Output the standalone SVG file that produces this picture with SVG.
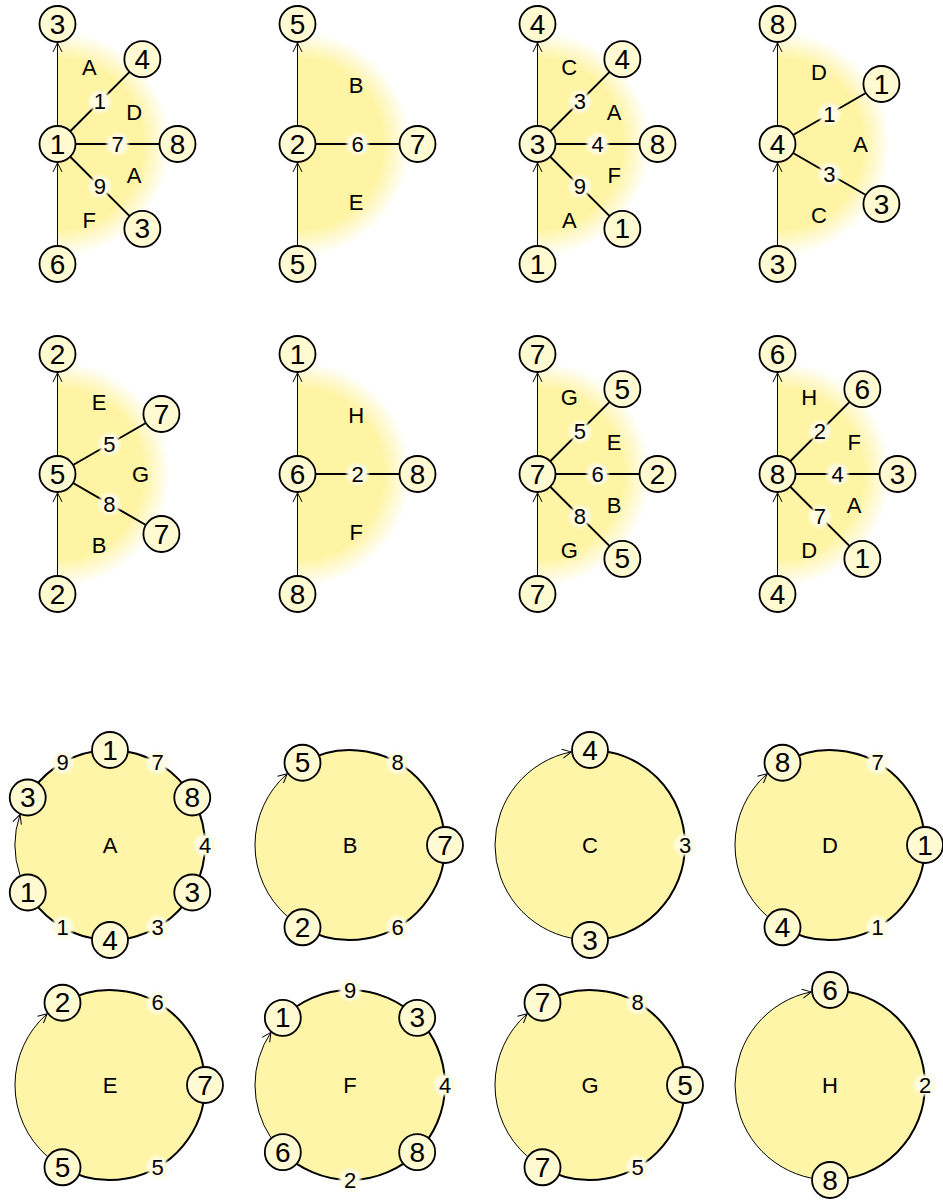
<svg xmlns="http://www.w3.org/2000/svg" width="943" height="1201" viewBox="0 0 943 1201">
<defs>
<style>
.halo{fill:url(#haloG)}
.disk{fill:#fff5a8}
.node circle{fill:#fffad2;stroke:#000;stroke-width:1.8}
text{font-family:"Liberation Sans",Arial,sans-serif;text-anchor:middle;dominant-baseline:central;fill:#000}
.nt{font-size:28px}
.lt{font-size:22px}
.spoke{stroke:#000;stroke-width:2;fill:none}
.rim{stroke:#000;stroke-width:2;fill:none}
.arr{stroke:#000;stroke-width:1;fill:none;marker-end:url(#ah)}
.lbg{fill:url(#lblG)}
</style>
<radialGradient id="haloG" cx="0.5" cy="0.5" r="0.5">
<stop offset="0" stop-color="#fff4a4"/>
<stop offset="0.76" stop-color="#fff4a4"/>
<stop offset="1" stop-color="#fff4a4" stop-opacity="0"/>
</radialGradient>
<radialGradient id="lblG" cx="0.5" cy="0.5" r="0.5">
<stop offset="0" stop-color="#fffce2"/>
<stop offset="0.65" stop-color="#fffce2"/>
<stop offset="1" stop-color="#fffce2" stop-opacity="0"/>
</radialGradient>
<clipPath id="rh" clipPathUnits="objectBoundingBox"><rect x="0.5" y="0" width="0.5" height="1"/></clipPath>
<marker id="ah" markerWidth="12" markerHeight="12" refX="0" refY="0" orient="auto" markerUnits="userSpaceOnUse" overflow="visible">
<path d="M -9 -4.5 L 0 0 L -9 4.5" fill="none" stroke="#000" stroke-width="1"/>
</marker>
</defs>
<rect width="943" height="1201" fill="#fff"/>

<!-- halos and disks -->
<g id="backgrounds">
<circle class="halo" cx="57.5" cy="144" r="113" clip-path="url(#rh)"/>
<circle class="halo" cx="297.5" cy="144" r="113" clip-path="url(#rh)"/>
<circle class="halo" cx="537.5" cy="144" r="113" clip-path="url(#rh)"/>
<circle class="halo" cx="777.5" cy="144" r="113" clip-path="url(#rh)"/>
<circle class="halo" cx="57.5" cy="474" r="113" clip-path="url(#rh)"/>
<circle class="halo" cx="297.5" cy="474" r="113" clip-path="url(#rh)"/>
<circle class="halo" cx="537.5" cy="474" r="113" clip-path="url(#rh)"/>
<circle class="halo" cx="777.5" cy="474" r="113" clip-path="url(#rh)"/>
<circle class="disk" cx="110" cy="845" r="95"/>
<circle class="disk" cx="350" cy="845" r="95"/>
<circle class="disk" cx="590" cy="845" r="95"/>
<circle class="disk" cx="830" cy="845" r="95"/>
<circle class="disk" cx="110" cy="1085" r="95"/>
<circle class="disk" cx="350" cy="1085" r="95"/>
<circle class="disk" cx="590" cy="1085" r="95"/>
<circle class="disk" cx="830" cy="1085" r="95"/>
</g>

<!-- face labels -->
<g id="faces">
<text class="lt" x="89.26" y="67.32">A</text>
<text class="lt" x="134.18" y="112.24">D</text>
<text class="lt" x="134.18" y="175.76">A</text>
<text class="lt" x="89.26" y="220.68">F</text>
<text class="lt" x="356.19" y="85.31">B</text>
<text class="lt" x="356.19" y="202.69">E</text>
<text class="lt" x="569.26" y="67.32">C</text>
<text class="lt" x="614.18" y="112.24">A</text>
<text class="lt" x="614.18" y="175.76">F</text>
<text class="lt" x="569.26" y="220.68">A</text>
<text class="lt" x="819" y="72.12">D</text>
<text class="lt" x="860.5" y="144">A</text>
<text class="lt" x="819" y="215.88">C</text>
<text class="lt" x="99" y="402.12">E</text>
<text class="lt" x="140.5" y="474">G</text>
<text class="lt" x="99" y="545.88">B</text>
<text class="lt" x="356.19" y="415.31">H</text>
<text class="lt" x="356.19" y="532.69">F</text>
<text class="lt" x="569.26" y="397.32">G</text>
<text class="lt" x="614.18" y="442.24">E</text>
<text class="lt" x="614.18" y="505.76">B</text>
<text class="lt" x="569.26" y="550.68">G</text>
<text class="lt" x="809.26" y="397.32">H</text>
<text class="lt" x="854.18" y="442.24">F</text>
<text class="lt" x="854.18" y="505.76">A</text>
<text class="lt" x="809.26" y="550.68">D</text>
<text class="lt" x="110" y="845">A</text>
<text class="lt" x="350" y="845">B</text>
<text class="lt" x="590" y="845">C</text>
<text class="lt" x="830" y="845">D</text>
<text class="lt" x="110" y="1085">E</text>
<text class="lt" x="350" y="1085">F</text>
<text class="lt" x="590" y="1085">G</text>
<text class="lt" x="830" y="1085">H</text>
</g>

<!-- connectors -->
<g id="connectors">
<path class="arr" d="M57.5 245.1 L57.5 162.9"/>
<path class="arr" d="M57.5 125.1 L57.5 42.9"/>
<path class="spoke" d="M57.5 144 L142.35 59.15 M57.5 144 L177.5 144 M57.5 144 L142.35 228.85"/>
<path class="arr" d="M297.5 245.1 L297.5 162.9"/>
<path class="arr" d="M297.5 125.1 L297.5 42.9"/>
<path class="spoke" d="M297.5 144 L417.5 144"/>
<path class="arr" d="M537.5 245.1 L537.5 162.9"/>
<path class="arr" d="M537.5 125.1 L537.5 42.9"/>
<path class="spoke" d="M537.5 144 L622.35 59.15 M537.5 144 L657.5 144 M537.5 144 L622.35 228.85"/>
<path class="arr" d="M777.5 245.1 L777.5 162.9"/>
<path class="arr" d="M777.5 125.1 L777.5 42.9"/>
<path class="spoke" d="M777.5 144 L881.42 84 M777.5 144 L881.42 204"/>
<path class="arr" d="M57.5 575.1 L57.5 492.9"/>
<path class="arr" d="M57.5 455.1 L57.5 372.9"/>
<path class="spoke" d="M57.5 474 L161.42 414 M57.5 474 L161.42 534"/>
<path class="arr" d="M297.5 575.1 L297.5 492.9"/>
<path class="arr" d="M297.5 455.1 L297.5 372.9"/>
<path class="spoke" d="M297.5 474 L417.5 474"/>
<path class="arr" d="M537.5 575.1 L537.5 492.9"/>
<path class="arr" d="M537.5 455.1 L537.5 372.9"/>
<path class="spoke" d="M537.5 474 L622.35 389.15 M537.5 474 L657.5 474 M537.5 474 L622.35 558.85"/>
<path class="arr" d="M777.5 575.1 L777.5 492.9"/>
<path class="arr" d="M777.5 455.1 L777.5 372.9"/>
<path class="spoke" d="M777.5 474 L862.35 389.15 M777.5 474 L897.5 474 M777.5 474 L862.35 558.85"/>

<path class="rim" d="M27.73 797.5 A95 95 0 1 1 27.73 892.5"/>
<path class="arr" d="M20 875.41 A95 95 0 0 1 20 814.59"/>
<path class="rim" d="M302.5 762.73 A95 95 0 1 1 302.5 927.27"/>
<path class="arr" d="M287.27 916.35 A95 95 0 0 1 287.27 773.65"/>
<path class="rim" d="M590 750 A95 95 0 0 1 590 940"/>
<path class="arr" d="M571.33 938.15 A95 95 0 0 1 571.33 751.85"/>
<path class="rim" d="M782.5 762.73 A95 95 0 1 1 782.5 927.27"/>
<path class="arr" d="M767.27 916.35 A95 95 0 0 1 767.27 773.65"/>
<path class="rim" d="M62.5 1002.73 A95 95 0 1 1 62.5 1167.27"/>
<path class="arr" d="M47.27 1156.35 A95 95 0 0 1 47.27 1013.65"/>
<path class="rim" d="M282.82 1017.82 A95 95 0 1 1 282.82 1152.18"/>
<path class="arr" d="M270.93 1137.67 A95 95 0 0 1 270.93 1032.33"/>
<path class="rim" d="M542.5 1002.73 A95 95 0 1 1 542.5 1167.27"/>
<path class="arr" d="M527.27 1156.35 A95 95 0 0 1 527.27 1013.65"/>
<path class="rim" d="M830 990 A95 95 0 0 1 830 1180"/>
<path class="arr" d="M811.33 1178.15 A95 95 0 0 1 811.33 991.85"/>

<!-- edge labels -->
<g class="elabels">
<circle class="lbg" cx="99.93" cy="101.57" r="13"/><text class="lt" x="99.93" y="101.57">1</text>
<circle class="lbg" cx="117.5" cy="144" r="13"/><text class="lt" x="117.5" y="144">7</text>
<circle class="lbg" cx="99.93" cy="186.43" r="13"/><text class="lt" x="99.93" y="186.43">9</text>
<circle class="lbg" cx="357.5" cy="144" r="13"/><text class="lt" x="357.5" y="144">6</text>
<circle class="lbg" cx="579.93" cy="101.57" r="13"/><text class="lt" x="579.93" y="101.57">3</text>
<circle class="lbg" cx="597.5" cy="144" r="13"/><text class="lt" x="597.5" y="144">4</text>
<circle class="lbg" cx="579.93" cy="186.43" r="13"/><text class="lt" x="579.93" y="186.43">9</text>
<circle class="lbg" cx="829.46" cy="114" r="13"/><text class="lt" x="829.46" y="114">1</text>
<circle class="lbg" cx="829.46" cy="174" r="13"/><text class="lt" x="829.46" y="174">3</text>
<circle class="lbg" cx="109.46" cy="444" r="13"/><text class="lt" x="109.46" y="444">5</text>
<circle class="lbg" cx="109.46" cy="504" r="13"/><text class="lt" x="109.46" y="504">8</text>
<circle class="lbg" cx="357.5" cy="474" r="13"/><text class="lt" x="357.5" y="474">2</text>
<circle class="lbg" cx="579.93" cy="431.57" r="13"/><text class="lt" x="579.93" y="431.57">5</text>
<circle class="lbg" cx="597.5" cy="474" r="13"/><text class="lt" x="597.5" y="474">6</text>
<circle class="lbg" cx="579.93" cy="516.43" r="13"/><text class="lt" x="579.93" y="516.43">8</text>
<circle class="lbg" cx="819.93" cy="431.57" r="13"/><text class="lt" x="819.93" y="431.57">2</text>
<circle class="lbg" cx="837.5" cy="474" r="13"/><text class="lt" x="837.5" y="474">4</text>
<circle class="lbg" cx="819.93" cy="516.43" r="13"/><text class="lt" x="819.93" y="516.43">7</text>

<circle class="lbg" cx="62.5" cy="762.73" r="13"/><text class="lt" x="62.5" y="762.73">9</text>
<circle class="lbg" cx="157.5" cy="762.73" r="13"/><text class="lt" x="157.5" y="762.73">7</text>
<circle class="lbg" cx="205" cy="845" r="13"/><text class="lt" x="205" y="845">4</text>
<circle class="lbg" cx="157.5" cy="927.27" r="13"/><text class="lt" x="157.5" y="927.27">3</text>
<circle class="lbg" cx="62.5" cy="927.27" r="13"/><text class="lt" x="62.5" y="927.27">1</text>
<circle class="lbg" cx="397.5" cy="762.73" r="13"/><text class="lt" x="397.5" y="762.73">8</text>
<circle class="lbg" cx="397.5" cy="927.27" r="13"/><text class="lt" x="397.5" y="927.27">6</text>
<circle class="lbg" cx="685" cy="845" r="13"/><text class="lt" x="685" y="845">3</text>
<circle class="lbg" cx="877.5" cy="762.73" r="13"/><text class="lt" x="877.5" y="762.73">7</text>
<circle class="lbg" cx="877.5" cy="927.27" r="13"/><text class="lt" x="877.5" y="927.27">1</text>
<circle class="lbg" cx="157.5" cy="1002.73" r="13"/><text class="lt" x="157.5" y="1002.73">6</text>
<circle class="lbg" cx="157.5" cy="1167.27" r="13"/><text class="lt" x="157.5" y="1167.27">5</text>
<circle class="lbg" cx="350" cy="990" r="13"/><text class="lt" x="350" y="990">9</text>
<circle class="lbg" cx="445" cy="1085" r="13"/><text class="lt" x="445" y="1085">4</text>
<circle class="lbg" cx="350" cy="1180" r="13"/><text class="lt" x="350" y="1180">2</text>
<circle class="lbg" cx="637.5" cy="1002.73" r="13"/><text class="lt" x="637.5" y="1002.73">8</text>
<circle class="lbg" cx="637.5" cy="1167.27" r="13"/><text class="lt" x="637.5" y="1167.27">5</text>
<circle class="lbg" cx="925" cy="1085" r="13"/><text class="lt" x="925" y="1085">2</text>
</g>
</g>

<!-- nodes: stars row 1 -->
<g id="s1-top" class="node"><circle cx="57.5" cy="24" r="18"/><text class="nt" x="57.5" y="24">3</text></g>
<g id="s1-center" class="node"><circle cx="57.5" cy="144" r="18"/><text class="nt" x="57.5" y="144">1</text></g>
<g id="s1-bottom" class="node"><circle cx="57.5" cy="264" r="18"/><text class="nt" x="57.5" y="264">6</text></g>
<g id="s1-n4" class="node"><circle cx="142.35" cy="59.15" r="18"/><text class="nt" x="142.35" y="59.15">4</text></g>
<g id="s1-n8" class="node"><circle cx="177.5" cy="144" r="18"/><text class="nt" x="177.5" y="144">8</text></g>
<g id="s1-n3" class="node"><circle cx="142.35" cy="228.85" r="18"/><text class="nt" x="142.35" y="228.85">3</text></g>

<g id="s2-top" class="node"><circle cx="297.5" cy="24" r="18"/><text class="nt" x="297.5" y="24">5</text></g>
<g id="s2-center" class="node"><circle cx="297.5" cy="144" r="18"/><text class="nt" x="297.5" y="144">2</text></g>
<g id="s2-bottom" class="node"><circle cx="297.5" cy="264" r="18"/><text class="nt" x="297.5" y="264">5</text></g>
<g id="s2-n7" class="node"><circle cx="417.5" cy="144" r="18"/><text class="nt" x="417.5" y="144">7</text></g>

<g id="s3-top" class="node"><circle cx="537.5" cy="24" r="18"/><text class="nt" x="537.5" y="24">4</text></g>
<g id="s3-center" class="node"><circle cx="537.5" cy="144" r="18"/><text class="nt" x="537.5" y="144">3</text></g>
<g id="s3-bottom" class="node"><circle cx="537.5" cy="264" r="18"/><text class="nt" x="537.5" y="264">1</text></g>
<g id="s3-n4" class="node"><circle cx="622.35" cy="59.15" r="18"/><text class="nt" x="622.35" y="59.15">4</text></g>
<g id="s3-n8" class="node"><circle cx="657.5" cy="144" r="18"/><text class="nt" x="657.5" y="144">8</text></g>
<g id="s3-n1" class="node"><circle cx="622.35" cy="228.85" r="18"/><text class="nt" x="622.35" y="228.85">1</text></g>

<g id="s4-top" class="node"><circle cx="777.5" cy="24" r="18"/><text class="nt" x="777.5" y="24">8</text></g>
<g id="s4-center" class="node"><circle cx="777.5" cy="144" r="18"/><text class="nt" x="777.5" y="144">4</text></g>
<g id="s4-bottom" class="node"><circle cx="777.5" cy="264" r="18"/><text class="nt" x="777.5" y="264">3</text></g>
<g id="s4-n1" class="node"><circle cx="881.42" cy="84" r="18"/><text class="nt" x="881.42" y="84">1</text></g>
<g id="s4-n3" class="node"><circle cx="881.42" cy="204" r="18"/><text class="nt" x="881.42" y="204">3</text></g>

<!-- stars row 2 -->
<g id="s5-top" class="node"><circle cx="57.5" cy="354" r="18"/><text class="nt" x="57.5" y="354">2</text></g>
<g id="s5-center" class="node"><circle cx="57.5" cy="474" r="18"/><text class="nt" x="57.5" y="474">5</text></g>
<g id="s5-bottom" class="node"><circle cx="57.5" cy="594" r="18"/><text class="nt" x="57.5" y="594">2</text></g>
<g id="s5-n7a" class="node"><circle cx="161.42" cy="414" r="18"/><text class="nt" x="161.42" y="414">7</text></g>
<g id="s5-n7b" class="node"><circle cx="161.42" cy="534" r="18"/><text class="nt" x="161.42" y="534">7</text></g>

<g id="s6-top" class="node"><circle cx="297.5" cy="354" r="18"/><text class="nt" x="297.5" y="354">1</text></g>
<g id="s6-center" class="node"><circle cx="297.5" cy="474" r="18"/><text class="nt" x="297.5" y="474">6</text></g>
<g id="s6-bottom" class="node"><circle cx="297.5" cy="594" r="18"/><text class="nt" x="297.5" y="594">8</text></g>
<g id="s6-n8" class="node"><circle cx="417.5" cy="474" r="18"/><text class="nt" x="417.5" y="474">8</text></g>

<g id="s7-top" class="node"><circle cx="537.5" cy="354" r="18"/><text class="nt" x="537.5" y="354">7</text></g>
<g id="s7-center" class="node"><circle cx="537.5" cy="474" r="18"/><text class="nt" x="537.5" y="474">7</text></g>
<g id="s7-bottom" class="node"><circle cx="537.5" cy="594" r="18"/><text class="nt" x="537.5" y="594">7</text></g>
<g id="s7-n5a" class="node"><circle cx="622.35" cy="389.15" r="18"/><text class="nt" x="622.35" y="389.15">5</text></g>
<g id="s7-n2" class="node"><circle cx="657.5" cy="474" r="18"/><text class="nt" x="657.5" y="474">2</text></g>
<g id="s7-n5b" class="node"><circle cx="622.35" cy="558.85" r="18"/><text class="nt" x="622.35" y="558.85">5</text></g>

<g id="s8-top" class="node"><circle cx="777.5" cy="354" r="18"/><text class="nt" x="777.5" y="354">6</text></g>
<g id="s8-center" class="node"><circle cx="777.5" cy="474" r="18"/><text class="nt" x="777.5" y="474">8</text></g>
<g id="s8-bottom" class="node"><circle cx="777.5" cy="594" r="18"/><text class="nt" x="777.5" y="594">4</text></g>
<g id="s8-n6" class="node"><circle cx="862.35" cy="389.15" r="18"/><text class="nt" x="862.35" y="389.15">6</text></g>
<g id="s8-n3" class="node"><circle cx="897.5" cy="474" r="18"/><text class="nt" x="897.5" y="474">3</text></g>
<g id="s8-n1" class="node"><circle cx="862.35" cy="558.85" r="18"/><text class="nt" x="862.35" y="558.85">1</text></g>

<!-- circle faces -->
<g id="cA-n3a" class="node"><circle cx="27.73" cy="797.5" r="18"/><text class="nt" x="27.73" y="797.5">3</text></g>
<g id="cA-n1a" class="node"><circle cx="110" cy="750" r="18"/><text class="nt" x="110" y="750">1</text></g>
<g id="cA-n8" class="node"><circle cx="192.27" cy="797.5" r="18"/><text class="nt" x="192.27" y="797.5">8</text></g>
<g id="cA-n3b" class="node"><circle cx="192.27" cy="892.5" r="18"/><text class="nt" x="192.27" y="892.5">3</text></g>
<g id="cA-n4" class="node"><circle cx="110" cy="940" r="18"/><text class="nt" x="110" y="940">4</text></g>
<g id="cA-n1b" class="node"><circle cx="27.73" cy="892.5" r="18"/><text class="nt" x="27.73" y="892.5">1</text></g>

<g id="cB-n5" class="node"><circle cx="302.5" cy="762.73" r="18"/><text class="nt" x="302.5" y="762.73">5</text></g>
<g id="cB-n7" class="node"><circle cx="445" cy="845" r="18"/><text class="nt" x="445" y="845">7</text></g>
<g id="cB-n2" class="node"><circle cx="302.5" cy="927.27" r="18"/><text class="nt" x="302.5" y="927.27">2</text></g>

<g id="cC-n4" class="node"><circle cx="590" cy="750" r="18"/><text class="nt" x="590" y="750">4</text></g>
<g id="cC-n3" class="node"><circle cx="590" cy="940" r="18"/><text class="nt" x="590" y="940">3</text></g>

<g id="cD-n8" class="node"><circle cx="782.5" cy="762.73" r="18"/><text class="nt" x="782.5" y="762.73">8</text></g>
<g id="cD-n1" class="node"><circle cx="925" cy="845" r="18"/><text class="nt" x="925" y="845">1</text></g>
<g id="cD-n4" class="node"><circle cx="782.5" cy="927.27" r="18"/><text class="nt" x="782.5" y="927.27">4</text></g>

<g id="cE-n2" class="node"><circle cx="62.5" cy="1002.73" r="18"/><text class="nt" x="62.5" y="1002.73">2</text></g>
<g id="cE-n7" class="node"><circle cx="205" cy="1085" r="18"/><text class="nt" x="205" y="1085">7</text></g>
<g id="cE-n5" class="node"><circle cx="62.5" cy="1167.27" r="18"/><text class="nt" x="62.5" y="1167.27">5</text></g>

<g id="cF-n1" class="node"><circle cx="282.82" cy="1017.82" r="18"/><text class="nt" x="282.82" y="1017.82">1</text></g>
<g id="cF-n3" class="node"><circle cx="417.18" cy="1017.82" r="18"/><text class="nt" x="417.18" y="1017.82">3</text></g>
<g id="cF-n8" class="node"><circle cx="417.18" cy="1152.18" r="18"/><text class="nt" x="417.18" y="1152.18">8</text></g>
<g id="cF-n6" class="node"><circle cx="282.82" cy="1152.18" r="18"/><text class="nt" x="282.82" y="1152.18">6</text></g>

<g id="cG-n7a" class="node"><circle cx="542.5" cy="1002.73" r="18"/><text class="nt" x="542.5" y="1002.73">7</text></g>
<g id="cG-n5" class="node"><circle cx="685" cy="1085" r="18"/><text class="nt" x="685" y="1085">5</text></g>
<g id="cG-n7b" class="node"><circle cx="542.5" cy="1167.27" r="18"/><text class="nt" x="542.5" y="1167.27">7</text></g>

<g id="cH-n6" class="node"><circle cx="830" cy="990" r="18"/><text class="nt" x="830" y="990">6</text></g>
<g id="cH-n8" class="node"><circle cx="830" cy="1180" r="18"/><text class="nt" x="830" y="1180">8</text></g>
</svg>
